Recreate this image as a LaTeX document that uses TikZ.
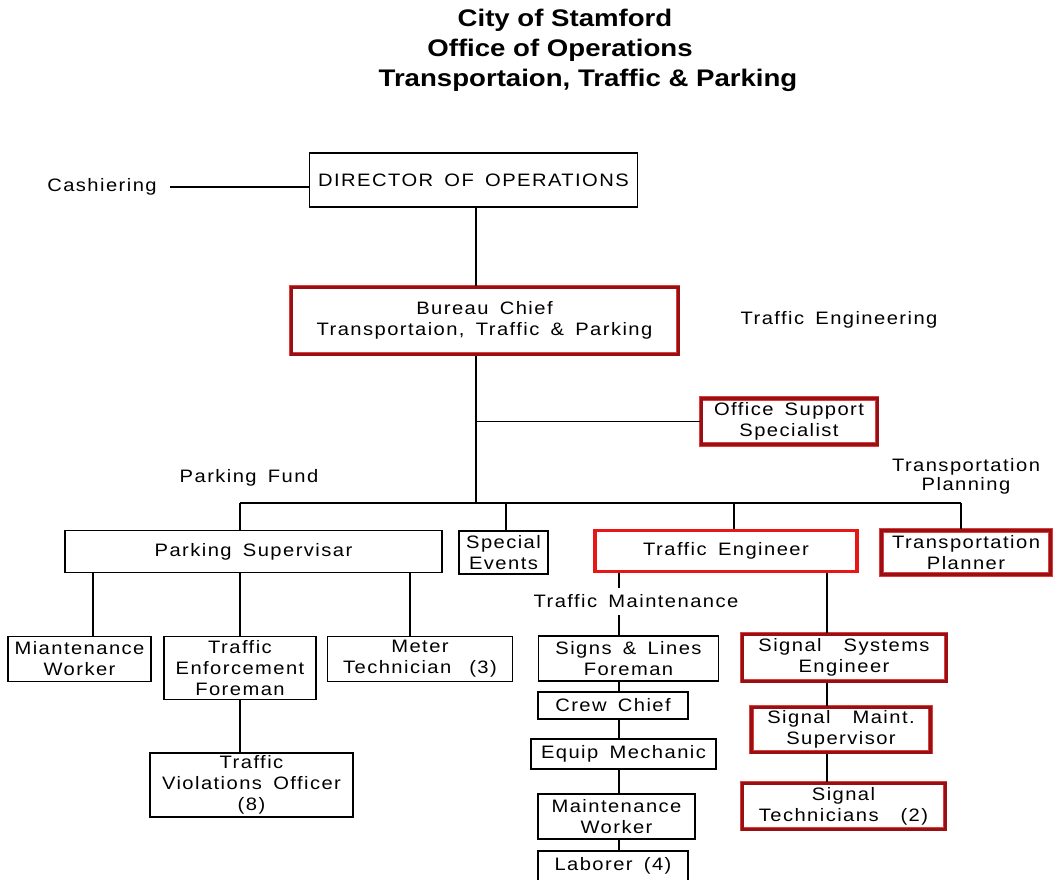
\documentclass[tikz,border=0pt]{standalone}
\usepackage{fontspec}
\newfontfamily\cadfont[FakeStretch=1.12,LetterSpace=8,WordSpace=1.6]{Liberation Sans}
\newfontfamily\titlefont[FakeStretch=1.15,BoldFont=* Bold]{Liberation Sans}
\definecolor{darkred}{RGB}{150,16,20}
\definecolor{brightred}{RGB}{232,22,22}
\definecolor{halo}{RGB}{225,60,60}
\tikzset{
  cad/.style={font=\cadfont\fontsize{18}{21}\selectfont},
  box/.style={draw=black, line width=1.2pt, inner sep=0pt, align=center, cad},
  rbox/.style={box, draw=darkred, line width=3pt,
     preaction={draw=halo, line width=4.2pt}},
  brbox/.style={box, draw=brightred, line width=3.6pt},
  lbl/.style={inner sep=0pt, align=center, cad},
  link/.style={line width=1.2pt, black},
  ttl/.style={inner sep=0pt, font=\titlefont\bfseries\fontsize{24}{30}\selectfont}
}
\begin{document}
\begin{tikzpicture}[x=1pt,y=-1pt]
\useasboundingbox (0,0) rectangle (1053,880);
% title
\node[ttl] (t1) at (565,20) {City of Stamford};
\node[ttl] (t2) at (560,50) {Office of Operations};
\node[ttl] (t3) at (588,80) {Transportaion, Traffic \& Parking};
% coordinates
\coordinate (trunk) at (476,0);
\coordinate (bus) at (476,503);
\coordinate (busL) at (240,503);
\coordinate (busR) at (961,503);
\coordinate (dse) at (506,0);
\coordinate (dte) at (734,0);
\coordinate (dpa) at (93,0);
\coordinate (dpb) at (240,0);
\coordinate (dpc) at (410,0);
\coordinate (tmx) at (619,0);
\coordinate (sgx) at (827,0);
% labels
\node[lbl] (cash) at (102,187) {Cashiering};
\node[lbl] (teng) at (839,320) {Traffic Engineering};
\node[lbl] (pfund) at (249,478) {Parking Fund};
\node[lbl] (tplan) at (966,476) {Transportation\\[-2pt]Planning};
\node[lbl, minimum height=27pt] (tml) at (636,601.5) {Traffic Maintenance};
% boxes
\node[box, minimum width=328pt, minimum height=54pt] (dir) at (473.5,180) {DIRECTOR OF OPERATIONS};
\node[rbox, minimum width=387pt, minimum height=67pt] (bureau) at (484.5,320.5) {Bureau Chief\\Transportaion, Traffic \& Parking};
\node[rbox, minimum width=176pt, minimum height=46pt] (oss) at (789,421.5) {Office Support\\Specialist};
\node[box, minimum width=377pt, minimum height=42pt] (ps) at (253.5,551.5) {Parking Supervisar};
\node[box, minimum width=89pt, minimum height=43pt] (se) at (503.5,552.5) {Special\\Events};
\node[brbox, minimum width=262pt, minimum height=41pt] (te) at (726,551) {Traffic Engineer};
\node[rbox, minimum width=169pt, minimum height=44pt] (tp) at (966,552.5) {Transportation\\Planner};
\node[box, minimum width=143pt, minimum height=45pt] (mw) at (79.5,659) {Miantenance\\Worker};
\node[box, minimum width=152pt, minimum height=63pt] (tef) at (240,668) {Traffic\\Enforcement\\Foreman};
\node[box, minimum width=185pt, minimum height=45pt] (mt) at (420,659) {Meter\\Technician\hspace{18pt}(3)};
\node[box, minimum width=203pt, minimum height=64pt] (tvo) at (251.5,785) {Traffic\\Violations Officer\\(8)};
\node[box, minimum width=180pt, minimum height=45pt] (slf) at (628.5,658.5) {Signs \& Lines\\Foreman};
\node[box, minimum width=150pt, minimum height=27pt] (cc) at (613,705.5) {Crew Chief};
\node[box, minimum width=185pt, minimum height=30pt] (em) at (623.5,754) {Equip Mechanic};
\node[box, minimum width=157pt, minimum height=45pt] (mw2) at (616.5,816.5) {Maintenance\\Worker};
\node[box, minimum width=150pt, minimum height=30pt] (lab) at (613,866) {Laborer (4)};
\node[rbox, minimum width=204pt, minimum height=47pt] (sse) at (844,657.5) {Signal\hspace{22pt}Systems\\Engineer};
\node[rbox, minimum width=179pt, minimum height=45pt] (sms) at (841,729.5) {Signal\hspace{22pt}Maint.\\Supervisor};
\node[rbox, minimum width=203pt, minimum height=46pt] (st) at (843.5,806) {Signal\\Technicians\hspace{22pt}(2)};
% connectors
\draw[link] ([xshift=13pt]cash.east) -- (cash -| dir.west);
\draw[link] (dir.south -| trunk) -- (bureau.north -| trunk);
\draw[link] (bureau.south -| trunk) -- (bus);
\draw[link] (oss.west) -- (oss.west -| trunk);
\draw[link] (busL) -- (busR);
\draw[link] (busL) -- (ps.north -| busL);
\draw[link] (bus -| dse) -- (se.north -| dse);
\draw[link] (bus -| dte) -- (te.north -| dte);
\draw[link] (busR) -- (tp.north -| busR);
\draw[link] (ps.south -| dpa) -- (mw.north -| dpa);
\draw[link] (ps.south -| dpb) -- (tef.north -| dpb);
\draw[link] (ps.south -| dpc) -- (mt.north -| dpc);
\draw[link] (tef.south -| dpb) -- (tvo.north -| dpb);
\draw[link] (te.south -| tmx) -- (tml.north -| tmx);
\draw[link] (tml.south -| tmx) -- (slf.north -| tmx);
\draw[link] (slf.south -| tmx) -- (cc.north -| tmx);
\draw[link] (cc.south -| tmx) -- (em.north -| tmx);
\draw[link] (em.south -| tmx) -- (mw2.north -| tmx);
\draw[link] (mw2.south -| tmx) -- (lab.north -| tmx);
\draw[link] (te.south -| sgx) -- (sse.north -| sgx);
\draw[link] (sse.south -| sgx) -- (sms.north -| sgx);
\draw[link] (sms.south -| sgx) -- (st.north -| sgx);
\end{tikzpicture}
\end{document}
